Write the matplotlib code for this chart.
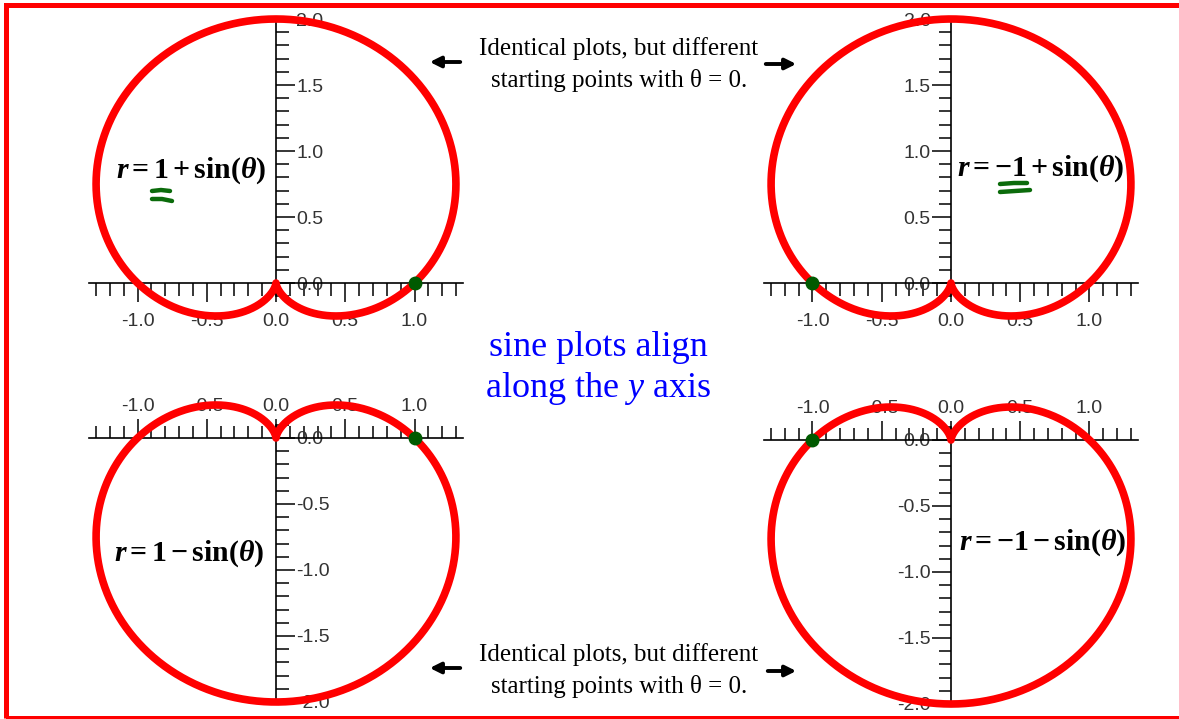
import numpy as np
import matplotlib.pyplot as plt
from matplotlib.patches import Rectangle, FancyArrowPatch
from matplotlib.lines import Line2D
from matplotlib.ticker import FixedLocator, FormatStrFormatter

plt.rcParams['axes.unicode_minus'] = False
plt.rcParams['font.family'] = 'Liberation Sans'
plt.rcParams['mathtext.fontset'] = 'custom'
plt.rcParams['mathtext.rm'] = 'Liberation Serif:bold'
plt.rcParams['mathtext.bf'] = 'Liberation Serif:bold'
plt.rcParams['mathtext.it'] = 'Liberation Serif:italic'
plt.rcParams['mathtext.bfit'] = 'Liberation Serif:italic:bold'

# r = c + s*sin(theta), panels in order: top-left, top-right, bottom-left, bottom-right
r_const = [1, -1, 1, -1]
r_sin = [1, 1, -1, -1]
equations = [r'$\mathbfit{r} = \mathbf{1} + \mathbf{sin}(\mathbfit{\theta})$',
             r'$\mathbfit{r} = -\mathbf{1} + \mathbf{sin}(\mathbfit{\theta})$',
             r'$\mathbfit{r} = \mathbf{1} - \mathbf{sin}(\mathbfit{\theta})$',
             r'$\mathbfit{r} = -\mathbf{1} - \mathbf{sin}(\mathbfit{\theta})$']
x_major = [-1.0, -0.5, 0.0, 0.5, 1.0]
y_major_top = [0.0, 0.5, 1.0, 1.5, 2.0]
y_major_bottom = [-2.0, -1.5, -1.0, -0.5, 0.0]
note_lines = ['Identical plots, but different', 'starting points with θ = 0.']
center_lines = ['sine plots align', r'along the $y$ axis']

theta = np.linspace(0, 2 * np.pi, 721)

W, H = 1179, 719
fig = plt.figure(figsize=(W / 100, H / 100), dpi=100)


def fx(px):
    return px / W


def fy(py):
    return 1 - py / H


# pixel origin of each little plot and its scale (px per unit)
origins = [(276, 283), (951, 283), (276, 438), (951, 440)]
sx, sy = 138.5, 132
eq_pos = [(116, 171), (957, 169), (114, 554), (959, 543)]

for i in range(4):
    ox, oy = origins[i]
    top = i < 2
    left = i % 2 == 0
    xlim = (-1.45, 1.45)
    ylim = (-0.4, 2.15) if top else (-2.15, 0.4)
    ax = fig.add_axes([fx(ox + xlim[0] * sx), fy(oy - ylim[0] * sy),
                       (xlim[1] - xlim[0]) * sx / W, (ylim[1] - ylim[0]) * sy / H])
    ax.set_xlim(*xlim)
    ax.set_ylim(*ylim)
    ax.patch.set_visible(False)
    for s in ax.spines.values():
        s.set_visible(False)

    xs = 'bottom' if top else 'top'
    ys = 'right' if left else 'left'
    ax.spines[xs].set_visible(True)
    ax.spines[xs].set_position(('data', 0))
    ax.spines[xs].set_bounds(-1.35, 1.35)
    ax.spines[ys].set_visible(True)
    ax.spines[ys].set_position(('data', 0))
    ax.spines[ys].set_bounds(*((-0.1, 2.0) if top else (-2.0, 0.1)))
    for s in (xs, ys):
        ax.spines[s].set_linewidth(1.2)
    ax.xaxis.set_ticks_position(xs)
    ax.yaxis.set_ticks_position(ys)

    ax.xaxis.set_major_locator(FixedLocator(x_major))
    ax.xaxis.set_minor_locator(FixedLocator(np.round(np.arange(-1.3, 1.31, 0.1), 1)))
    ax.yaxis.set_major_locator(FixedLocator(y_major_top if top else y_major_bottom))
    yminor = np.arange(-0.1, 2.01, 0.1) if top else np.arange(-2.0, 0.11, 0.1)
    ax.yaxis.set_minor_locator(FixedLocator(np.round(yminor, 1)))
    ax.xaxis.set_major_formatter(FormatStrFormatter('%.1f'))
    ax.yaxis.set_major_formatter(FormatStrFormatter('%.1f'))
    ax.tick_params(which='major', direction='out', length=13.5, width=1.1,
                   labelsize=14, labelcolor='#333333')
    ax.tick_params(which='minor', direction='out', length=9, width=1.1)
    ax.tick_params(axis='x', pad=8 if top else 3)
    ax.tick_params(axis='y', pad=1)

    r = r_const[i] + r_sin[i] * np.sin(theta)
    ax.plot(r * np.cos(theta), r * np.sin(theta), color='red', lw=5.5,
            solid_capstyle='round', zorder=3, clip_on=False)
    ax.plot(r[0] * np.cos(theta[0]), r[0] * np.sin(theta[0]), 'o', color='#005a00',
            ms=9, zorder=4, clip_on=False)

    ex, ey = eq_pos[i]
    fig.text(fx(ex), fy(ey), equations[i], fontsize=21.5, ha='left', va='center')

# notes between the top plots and between the bottom plots
for y0 in (49, 655):
    for k, line in enumerate(note_lines):
        fig.text(fx(619), fy(y0 + 31 * k), line, family='Liberation Serif',
                 fontsize=18, ha='center', va='center')

for k, line in enumerate(center_lines):
    fig.text(fx(598), fy(347 + 42 * k), line, family='Liberation Serif',
             fontsize=26, color='blue', ha='center', va='center')

# arrows pointing at the plots
arrows = [((463, 62), (427, 62)), ((763, 64), (799, 64)),
          ((463, 668), (427, 668)), ((765, 671), (799, 671))]
for a, b in arrows:
    fig.add_artist(FancyArrowPatch((fx(a[0]), fy(a[1])), (fx(b[0]), fy(b[1])),
                                   transform=fig.transFigure, arrowstyle='-|>',
                                   mutation_scale=16, lw=2.8, color='black'))

# green marks under the constant term
marks = [[(152, 191), (161, 190), (170, 191)], [(152, 199), (162, 199), (172, 201)],
         [(1000, 184), (1014, 183), (1027, 183)], [(1000, 192), (1015, 191), (1030, 190)]]
for m in marks:
    fig.add_artist(Line2D([fx(p[0]) for p in m], [fy(p[1]) for p in m],
                          transform=fig.transFigure, color='#0b6b0b', lw=3.2,
                          solid_capstyle='round'))

fig.add_artist(Rectangle((fx(5.5), fy(717.5)), fx(W + 10), (717.5 - 4.5) / H,
                         transform=fig.transFigure, fill=False, edgecolor='red', lw=3.6))

fig.savefig('out.png', dpi=100)
